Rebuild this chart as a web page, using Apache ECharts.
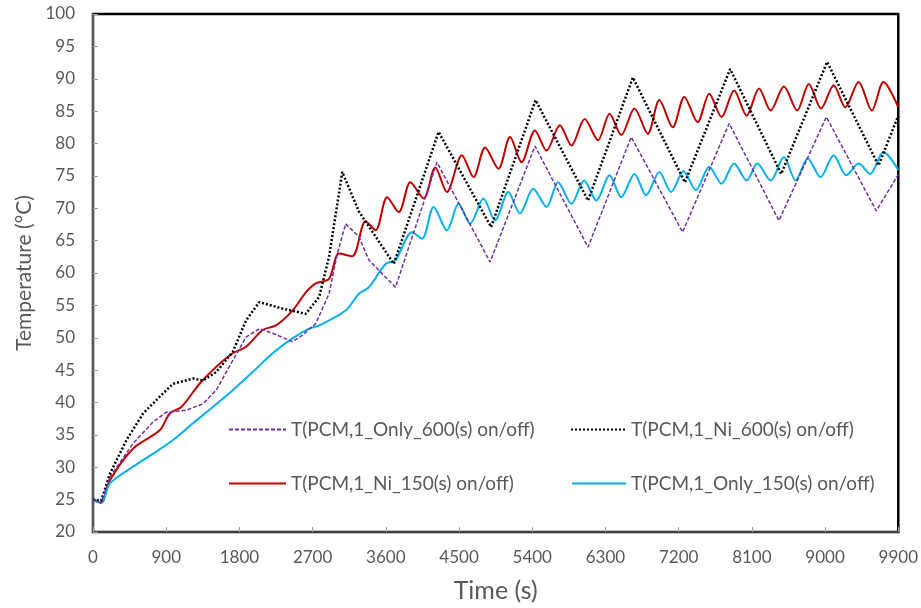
<!DOCTYPE html>
<html>
<head>
<meta charset="utf-8">
<script src="https://cdn.jsdelivr.net/npm/echarts@6/dist/echarts.min.js"></script>
<style>
  html, body { margin: 0; padding: 0; background: #fff; }
  #chart { width: 921px; height: 608px; }
</style>
</head>
<body>
<div id="chart"></div>
<script>
// T(PCM,1_Only_600(s) on/off)
var only600Time = [0, 100, 208, 494, 739, 902, 1147, 1351, 1514, 1718, 1882, 2045, 2208, 2453, 2576, 2739, 2902, 3004, 3106, 3269, 3392, 3719, 4229, 4882, 5433, 6086, 6617, 7249, 7821, 8433, 9016, 9629, 9900]
var only600Temp = [25, 24.5, 28.5, 33.7, 37.0, 38.5, 38.8, 39.8, 41.9, 46.5, 50.1, 51.4, 50.7, 49.4, 50.4, 52.2, 56.8, 63.0, 67.6, 65.6, 62.0, 57.8, 77.1, 61.7, 79.6, 64.0, 81.0, 66.3, 83.1, 68.1, 84.1, 69.6, 75.2]

// T(PCM,1_Ni_600(s) on/off)
var ni600Time = [0, 100, 208, 412, 616, 820, 984, 1229, 1351, 1514, 1718, 1882, 2045, 2330, 2617, 2780, 2902, 3065, 3269, 3698, 4249, 4894, 5441, 6086, 6637, 7277, 7833, 8461, 9025, 9657, 9900]
var ni600Temp = [25, 24.8, 29.0, 34.2, 38.3, 40.9, 42.9, 43.7, 43.4, 44.7, 47.8, 52.7, 55.5, 54.5, 53.7, 56.3, 62.5, 75.6, 69.5, 61.4, 81.8, 67.1, 86.7, 71.2, 90.2, 74.0, 91.5, 75.3, 92.6, 76.6, 84.3]

// T(PCM,1_Ni_150(s) on/off)
var ni150Time = [0, 100, 208, 494, 820, 943, 1086, 1310, 1514, 1718, 1882, 2086, 2249, 2453, 2617, 2739, 2902, 3024, 3188, 3351, 3474, 3616, 3759, 3902, 4065, 4208, 4351, 4535, 4678, 4821, 4984, 5127, 5269, 5433, 5576, 5739, 5882, 6045, 6208, 6351, 6494, 6657, 6821, 6963, 7127, 7270, 7433, 7576, 7727, 7882, 8036, 8188, 8331, 8494, 8657, 8800, 8951, 9106, 9249, 9412, 9575, 9718, 9900]
var ni150Temp = [25, 24.5, 28.0, 32.9, 35.7, 38.3, 39.3, 42.9, 45.5, 47.6, 48.6, 51.2, 51.9, 54.2, 57.0, 58.4, 59.1, 63.0, 62.6, 68.0, 66.6, 71.7, 69.4, 74.0, 71.5, 76.3, 72.5, 78.2, 74.8, 79.4, 76.1, 81.0, 77.1, 82.0, 78.9, 82.8, 79.7, 83.8, 80.5, 84.6, 81.3, 85.4, 81.5, 86.7, 82.5, 87.2, 83.3, 87.7, 84.1, 88.2, 84.3, 88.5, 85.1, 88.8, 85.1, 89.2, 85.4, 89.0, 85.6, 89.5, 85.1, 89.5, 85.6]

// T(PCM,1_Only_150(s) on/off)
var only150Time = [0, 100, 208, 494, 739, 984, 1229, 1473, 1718, 1963, 2208, 2453, 2657, 2780, 3106, 3269, 3392, 3596, 3719, 3922, 4045, 4188, 4351, 4494, 4637, 4800, 4943, 5106, 5249, 5412, 5576, 5718, 5882, 6037, 6188, 6351, 6494, 6657, 6800, 6963, 7106, 7261, 7412, 7576, 7727, 7882, 8036, 8167, 8331, 8494, 8637, 8788, 8943, 9106, 9261, 9412, 9555, 9718, 9900]
var only150Temp = [25, 24.5, 27.5, 30.1, 32.1, 34.2, 36.8, 39.3, 41.9, 44.7, 47.6, 49.9, 51.4, 51.9, 54.2, 56.8, 57.8, 61.4, 62.0, 66.3, 65.3, 70.2, 66.6, 70.7, 67.6, 71.5, 68.1, 72.5, 69.2, 73.0, 70.2, 74.0, 70.7, 74.3, 71.2, 75.1, 71.7, 75.3, 72.0, 75.6, 72.5, 75.7, 72.8, 76.4, 73.8, 76.9, 74.3, 76.9, 74.3, 77.9, 74.3, 77.7, 74.8, 78.2, 75.1, 76.9, 75.3, 78.7, 75.9]

var seriesNames = [
  'T(PCM,1_Only_600(s) on/off)',
  'T(PCM,1_Ni_600(s) on/off)',
  'T(PCM,1_Ni_150(s) on/off)',
  'T(PCM,1_Only_150(s) on/off)'
]

function pairs(xs, ys) {
  return xs.map(function (x, i) { return [x, ys[i]] })
}

var textColor = '#595959'
var fontFamily = 'Lato, "Open Sans", sans-serif'

var chart = echarts.init(document.getElementById('chart'))

function legendAt(name, left, top, lineLen) {
  return {
    data: [name],
    left: left,
    top: top,
    itemWidth: lineLen,
    itemHeight: 14,
    itemGap: 0,
    padding: 0,
    itemStyle: { opacity: 0, borderWidth: 0 },
    textStyle: { color: textColor, fontSize: 19, fontFamily: fontFamily }
  }
}

chart.setOption({
  animation: false,
  backgroundColor: '#fff',
  grid: {
    left: 93,
    right: 21,
    top: 14,
    bottom: 76,
    show: true,
    borderColor: '#000',
    borderWidth: 2.5
  },
  legend: [
    legendAt(seriesNames[0], 228, 420, 57),
    legendAt(seriesNames[1], 570, 420, 55),
    legendAt(seriesNames[2], 228, 474, 57),
    legendAt(seriesNames[3], 571, 474, 54)
  ],
  xAxis: {
    type: 'value',
    min: 0,
    max: 9900,
    interval: 900,
    name: 'Time (s)',
    nameLocation: 'middle',
    nameGap: 46,
    nameTextStyle: { color: textColor, fontSize: 25, fontFamily: fontFamily },
    axisLine: { show: true, lineStyle: { color: '#404040', width: 2 } },
    axisTick: { show: true, inside: true, length: 5, lineStyle: { color: '#a0a0a0' } },
    axisLabel: {
      color: textColor, fontSize: 17, fontFamily: fontFamily, margin: 17,
      formatter: function (v) { return String(v) }
    },
    splitLine: { show: false }
  },
  yAxis: {
    type: 'value',
    min: 20,
    max: 100,
    interval: 5,
    name: 'Temperature (°C)',
    nameLocation: 'middle',
    nameGap: 57,
    nameTextStyle: { color: textColor, fontSize: 21, fontFamily: fontFamily },
    axisLine: { show: true, lineStyle: { color: '#595959', width: 2 } },
    axisTick: { show: true, inside: true, length: 5, lineStyle: { color: '#a0a0a0' } },
    axisLabel: { color: textColor, fontSize: 17, fontFamily: fontFamily, margin: 18 },
    splitLine: { show: false }
  },
  series: [
    {
      name: seriesNames[0],
      type: 'line',
      symbol: 'none',
      data: pairs(only600Time, only600Temp),
      lineStyle: { color: '#7030a0', width: 1.5, type: [4, 2] },
      itemStyle: { color: '#7030a0' },
      z: 4
    },
    {
      name: seriesNames[1],
      type: 'line',
      symbol: 'none',
      data: pairs(ni600Time, ni600Temp),
      lineStyle: { color: '#000', width: 2.5, type: [2, 2] },
      itemStyle: { color: '#000' },
      z: 3
    },
    {
      name: seriesNames[2],
      type: 'line',
      symbol: 'none',
      smooth: 0.3,
      data: pairs(ni150Time, ni150Temp),
      lineStyle: { color: '#c00000', width: 2 },
      itemStyle: { color: '#c00000' },
      z: 2
    },
    {
      name: seriesNames[3],
      type: 'line',
      symbol: 'none',
      smooth: 0.3,
      data: pairs(only150Time, only150Temp),
      lineStyle: { color: '#00b0f0', width: 2 },
      itemStyle: { color: '#00b0f0' },
      z: 2
    }
  ]
})
</script>
</body>
</html>
